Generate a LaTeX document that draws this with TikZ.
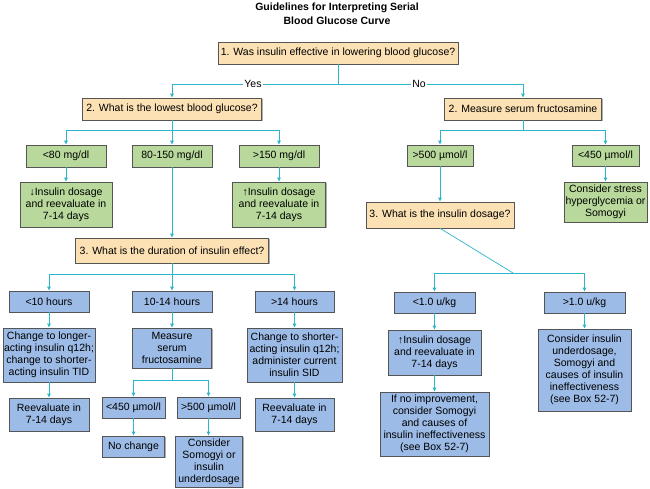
\documentclass[tikz,border=0pt]{standalone}
\usepackage{fontspec}
\setmainfont{Liberation Sans}
\usetikzlibrary{shadows,arrows.meta}
\definecolor{peachcol}{HTML}{FCE1B5}
\definecolor{greencol}{HTML}{B8D99B}
\definecolor{bluecol}{HTML}{9CBBE6}
\definecolor{bordercol}{HTML}{555555}
\definecolor{cyancol}{HTML}{2BB5C9}
\tikzset{
  box/.style={draw=bordercol, line width=0.6pt, inner sep=1pt, align=center,
    font=\fontsize{10.5}{12}\selectfont,
    drop shadow={shadow xshift=1pt, shadow yshift=-1pt, fill=black!45, opacity=0.7}},
  peach/.style={box, fill=peachcol},
  greenbox/.style={box, fill=greencol},
  bluebox/.style={box, fill=bluecol},
  conn/.style={draw=cyancol, line width=0.7pt},
  arr/.style={conn, -{Latex[length=4pt,width=4pt]}},
  lbl/.style={fill=white, inner sep=1.5pt, font=\fontsize{10.5}{12}\selectfont},
  titlefont/.style={font=\bfseries\fontsize{10.5}{12}\selectfont, inner sep=0pt}
}
\begin{document}
\begin{tikzpicture}[x=1pt, y=-1pt]
\useasboundingbox (0,0) rectangle (650,489);
% title
\node[titlefont] (t1) at (337,8) {Guidelines for Interpreting Serial};
\node[titlefont] (t2) at (337,21) {Blood Glucose Curve};
% level 1
\node[peach, minimum width=240pt, minimum height=22pt] (q1) at (338,53) {1. Was insulin effective in lowering blood glucose?};
\node[peach, minimum width=179pt, minimum height=22pt] (q2L) at (172,109) {2. What is the lowest blood glucose?};
\node[peach, minimum width=157pt, minimum height=22pt] (q2R) at (523,109) {2. Measure serum fructosamine};
% left green
\node[greenbox, minimum width=80pt, minimum height=22pt] (g80) at (66,156) {<80 mg/dl};
\node[greenbox, minimum width=80pt, minimum height=22pt] (g80150) at (172,156) {80-150 mg/dl};
\node[greenbox, minimum width=80pt, minimum height=22pt] (g150) at (279,156) {>150 mg/dl};
\node[greenbox, minimum width=92pt, minimum height=45pt] (gdown) at (66,204.5) {↓Insulin dosage\\and reevaluate in\\7-14 days};
\node[greenbox, minimum width=93pt, minimum height=45pt] (gup) at (279,204.5) {↑Insulin dosage\\and reevaluate in\\7-14 days};
% duration
\node[peach, minimum width=193pt, minimum height=25pt] (q3L) at (172,250.5) {3. What is the duration of insulin effect?};
\node[bluebox, minimum width=80pt, minimum height=21pt] (b10) at (49,301.5) {<10 hours};
\node[bluebox, minimum width=80pt, minimum height=21pt] (b1014) at (172,301.5) {10-14 hours};
\node[bluebox, minimum width=79pt, minimum height=21pt] (b14) at (294.5,301.5) {>14 hours};
\node[bluebox, minimum width=92pt, minimum height=54pt] (r10) at (49,355) {Change to longer-\\acting insulin q12h;\\change to shorter-\\acting insulin TID};
\node[bluebox, minimum width=79pt, minimum height=40pt] (rmeas) at (172,348) {Measure\\serum\\fructosamine};
\node[bluebox, minimum width=95pt, minimum height=54pt] (r14) at (294.5,355) {Change to shorter-\\acting insulin q12h;\\administer current\\insulin SID};
\node[bluebox, minimum width=80pt, minimum height=33pt] (re10) at (49,414.5) {Reevaluate in\\7-14 days};
\node[bluebox, minimum width=79pt, minimum height=33pt] (re14) at (294.5,414.5) {Reevaluate in\\7-14 days};
\node[bluebox, minimum width=63pt, minimum height=21pt] (f450) at (133.5,407.5) {<450 µmol/l};
\node[bluebox, minimum width=63pt, minimum height=21pt] (f500) at (208.5,407.5) {>500 µmol/l};
\node[bluebox, minimum width=62pt, minimum height=21pt] (noch) at (133.5,446.5) {No change};
\node[bluebox, minimum width=67pt, minimum height=51pt] (somog) at (209,461.5) {Consider\\Somogyi or\\insulin\\underdosage};
% right side
\node[greenbox, minimum width=66pt, minimum height=21pt] (g500) at (440,155.5) {>500 µmol/l};
\node[greenbox, minimum width=67pt, minimum height=21pt] (g450) at (605.5,155.5) {<450 µmol/l};
\node[greenbox, minimum width=83pt, minimum height=40pt] (stress) at (605.5,202) {Consider stress\\hyperglycemia or\\Somogyi};
\node[peach, minimum width=148pt, minimum height=26pt] (q3R) at (440,215) {3. What is the insulin dosage?};
\node[bluebox, minimum width=81pt, minimum height=21pt] (u1) at (434.5,302.5) {<1.0 u/kg};
\node[bluebox, minimum width=81pt, minimum height=21pt] (u2) at (584.5,302.5) {>1.0 u/kg};
\node[bluebox, minimum width=93pt, minimum height=45pt] (up) at (434.5,352.5) {↑Insulin dosage\\and reevaluate in\\7-14 days};
\node[bluebox, minimum width=109pt, minimum height=64pt] (ifno) at (434.5,424) {If no improvement,\\consider Somogyi\\and causes of\\insulin ineffectiveness\\(see Box 52-7)};
\node[bluebox, minimum width=93pt, minimum height=82pt] (cons) at (584.5,370) {Consider insulin\\underdosage,\\Somogyi and\\causes of insulin\\ineffectiveness\\(see Box 52-7)};
% junction coordinates
\coordinate (j1) at (338,84);
\coordinate (j2L) at (172,130);
\coordinate (j3L) at (172,274);
\coordinate (jf) at (172,380);
\coordinate (j2R) at (523,130);
\coordinate (jd) at (513,273);
% connectors
\draw[conn] (q1.south) -- (j1);
\draw[arr] (j1) -| (q2L.north);
\draw[arr] (j1) -| (q2R.north);
\node[lbl] (yes) at (253,84) {Yes};
\node[lbl] (no) at (419,84) {No};
\draw[conn] (q2L.south) -- (j2L);
\draw[arr] (j2L) -| (g80.north);
\draw[arr] (j2L) -| (g150.north);
\draw[arr] (j2L) -- (g80150.north);
\draw[arr] (g80) -- (gdown);
\draw[arr] (g150) -- (gup);
\draw[arr] (g80150) -- (q3L);
\draw[conn] (q3L.south) -- (j3L);
\draw[arr] (j3L) -| (b10.north);
\draw[arr] (j3L) -| (b14.north);
\draw[arr] (j3L) -- (b1014.north);
\draw[arr] (b10) -- (r10);
\draw[arr] (r10) -- (re10);
\draw[arr] (b1014) -- (rmeas);
\draw[arr] (b14) -- (r14);
\draw[arr] (r14) -- (re14);
\draw[conn] (rmeas.south) -- (jf);
\draw[arr] (jf) -| (f450.north);
\draw[arr] (jf) -| (f500.north);
\draw[arr] (f450) -- (noch);
\draw[arr] (f500.south) -- (somog.north -| f500.south);
\draw[conn] (q2R.south) -- (j2R);
\draw[arr] (j2R) -| (g500.north);
\draw[arr] (j2R) -| (g450.north);
\draw[arr] (g450) -- (stress);
\draw[arr] (g500) -- (q3R);
\draw[conn] (q3R.south) -- (jd);
\draw[arr] (jd) -| (u1.north);
\draw[arr] (jd) -| (u2.north);
\draw[arr] (u1) -- (up);
\draw[arr] (up) -- (ifno);
\draw[arr] (u2) -- (cons);
\end{tikzpicture}
\end{document}
